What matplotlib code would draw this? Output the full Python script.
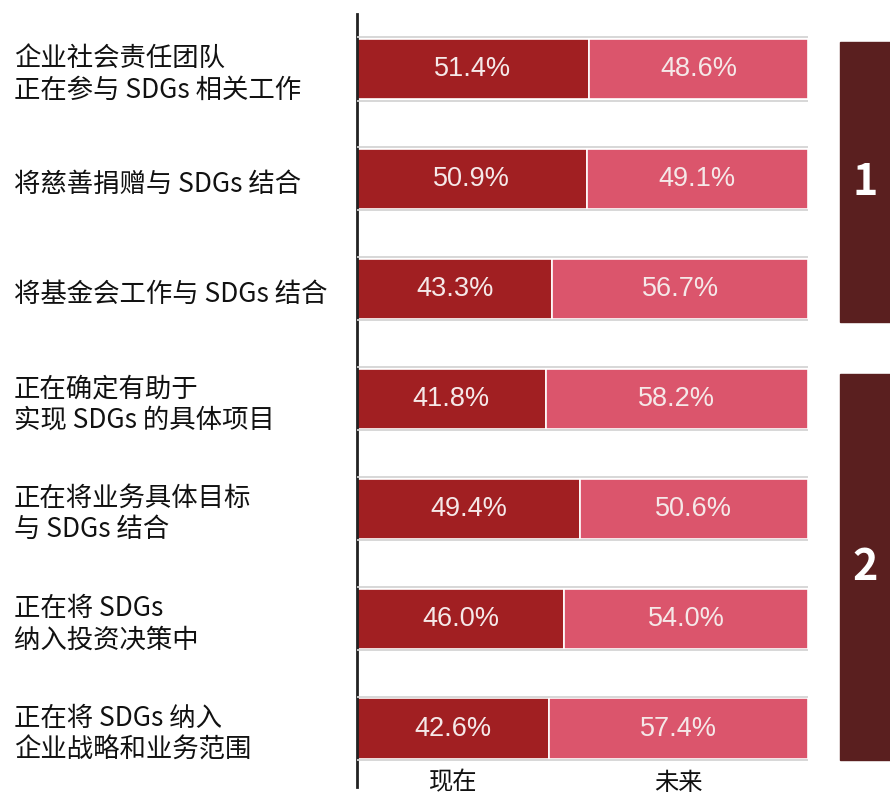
import matplotlib
matplotlib.use("Agg")
import matplotlib.pyplot as plt
from matplotlib.patches import Rectangle
from matplotlib.transforms import blended_transform_factory

plt.rcParams['font.family'] = ['Noto Sans CJK SC', 'DejaVu Sans']

categories = [
    "企业社会责任团队\n正在参与 SDGs 相关工作",
    "将慈善捐赠与 SDGs 结合",
    "将基金会工作与 SDGs 结合",
    "正在确定有助于\n实现 SDGs 的具体项目",
    "正在将业务具体目标\n与 SDGs 结合",
    "正在将 SDGs\n纳入投资决策中",
    "正在将 SDGs 纳入\n企业战略和业务范围",
]
now_vals = [51.4, 50.9, 43.3, 41.8, 49.4, 46.0, 42.6]
future_vals = [48.6, 49.1, 56.7, 58.2, 50.6, 54.0, 57.4]
series_names = ["现在", "未来"]
group_labels = ["1", "2"]

c_now = "#A11F22"
c_fut = "#DB556C"
c_box = "#5A1F1F"

fig = plt.figure(figsize=(8.9, 7.99), dpi=100)
W, H = 890, 799
ax = fig.add_axes([357 / W, 1 - 787 / H, (808 - 357) / W, (787 - 14) / H])

ys = list(range(len(categories)))
h = 0.55
ax.barh(ys, now_vals, height=h, color=c_now, edgecolor="white", linewidth=1.2)
ax.barh(ys, future_vals, left=now_vals, height=h, color=c_fut, edgecolor="white", linewidth=1.2)

for y, a, b in zip(ys, now_vals, future_vals):
    ax.hlines([y - h / 2 - 0.012, y + h / 2 + 0.012], 0, a + b, color="#d4d4d4", lw=1.3, zorder=3)
    ax.text(a / 2, y, f"{a:.1f}%", ha="center", va="center", color="#F5E8E8",
            fontsize=19.5, family="Liberation Sans")
    ax.text(a + b / 2, y, f"{b:.1f}%", ha="center", va="center", color="#F5E8E8",
            fontsize=19.5, family="Liberation Sans")

ax.set_xlim(0, 100)
ax.set_ylim(6.53, -0.5)
for s in ["top", "right", "bottom"]:
    ax.spines[s].set_visible(False)
ax.spines["left"].set_linewidth(2)
ax.spines["left"].set_color("#222222")
ax.set_xticks([])
ax.set_yticks([])

# category labels
tr = blended_transform_factory(fig.transFigure, ax.transData)
for y, lab in zip(ys, categories):
    ax.text(14 / W, y + 0.05, lab, transform=tr, ha="left", va="center",
            fontsize=19, fontweight="medium", linespacing=1.2, color="#111111")

# series labels
ax.text(21.3, 6.49, series_names[0], ha="center", va="center", fontsize=17.5,
        fontweight="medium", color="#111111", clip_on=False)
ax.text(71.2, 6.49, series_names[1], ha="center", va="center", fontsize=17.5,
        fontweight="medium", color="#111111", clip_on=False)

# group boxes
ytr = ax.get_yaxis_transform()
bx = (840 - 357) / (808 - 357)
bw = (895 - 840) / (808 - 357)
boxes = [(-0.245, 2.30), (2.77, 6.28)]
for (y0, y1), g in zip(boxes, group_labels):
    ax.add_patch(Rectangle((bx, y0), bw, y1 - y0, transform=ytr, color=c_box, clip_on=False))
    ax.text(bx + 25 / 451, (y0 + y1) / 2, g, transform=ytr, ha="center", va="center",
            color="white", fontsize=31, fontweight="bold", clip_on=False)

fig.savefig("out.png", dpi=100)
